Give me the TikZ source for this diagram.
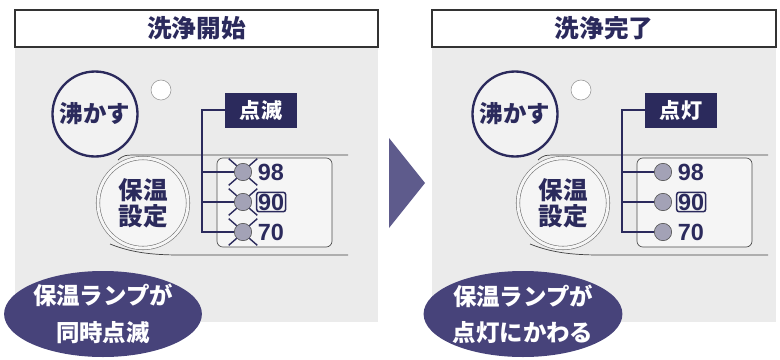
\documentclass[tikz,border=0pt]{standalone}
\usepackage{fontspec}
\setmainfont{Liberation Sans}
\newfontfamily\jpfont{Noto Sans CJK JP}
\usetikzlibrary{positioning,shapes.geometric,calc}
\definecolor{navy}{HTML}{2B2A5C}
\definecolor{panelgray}{HTML}{EBEBEB}
\definecolor{lampgray}{HTML}{A3A2B6}
\definecolor{capfill}{HTML}{47437A}
\definecolor{arrowfill}{HTML}{5E5B8C}
\tikzset{
  titlebox/.style={draw=black!80,line width=1.2pt,fill=white},
  titletext/.style={text=navy,font=\jpfont\bfseries\fontsize{21}{21}\selectfont},
  panelline/.style={draw=black!75,line width=0.6pt},
  lampbox/.style={draw=black!70,line width=0.6pt,fill=white!96!black,rounded corners=5pt,minimum width=3.45cm,minimum height=2.67cm},
  boilbtn/.style={circle,draw=navy,line width=2pt,fill=white!95!black,minimum size=2.55cm,inner sep=0pt,text=navy,font=\jpfont\bfseries\fontsize{20}{20}\selectfont},
  pilot/.style={circle,draw=black!40,line width=0.5pt,fill=white,minimum size=0.6cm,inner sep=0pt},
  keepbtn/.style={circle,draw=black!55,line width=0.5pt,double=white!96!black,double distance=2.5pt,fill=white!96!black,minimum size=2.7cm,inner sep=0pt,align=center,text=navy,font=\jpfont\bfseries\fontsize{21}{22}\selectfont},
  tagbox/.style={fill=navy,text=white,minimum width=2.16cm,minimum height=1.05cm,inner sep=0pt,font=\jpfont\bfseries\fontsize{18}{18}\selectfont},
  bus/.style={draw=navy,line width=2pt},
  lamp/.style={circle,draw=black!70,line width=0.5pt,fill=lampgray,minimum size=0.52cm,inner sep=0pt},
  numtext/.style={inner sep=0pt,text=navy,font=\bfseries\fontsize{20}{20}\selectfont},
  numframe/.style={numtext,draw=navy,line width=1.3pt,rounded corners=2pt,inner sep=1.2pt},
  blink/.style={draw=navy,line width=1.2pt},
  capsule/.style={ellipse,fill=capfill,minimum width=5.6cm,minimum height=2.58cm,inner sep=0pt,align=center,text=white,font=\jpfont\bfseries\fontsize{20}{31}\selectfont}
}
\begin{document}
\begin{tikzpicture}[x=0.03cm,y=-0.03cm]
\useasboundingbox (0,0) rectangle (780,359);
% arrow between the two states
\fill[arrowfill] (389,138) -- (425,183) -- (389,228) -- cycle;
\foreach \dx/\xa/\xb/\p/\ttl/\tag/\cap in {0/15/378/L/洗浄開始/点滅/同時点滅,420/432/776/R/洗浄完了/点灯/点灯にかわる}{
  \fill[panelgray] (\xa,47) rectangle (\xb,322);
  \draw[titlebox] (\xa,10) rectangle (\xb,47);
  \node[titletext] (title\p) at ({(\xa+\xb)/2},28.5) {\ttl};
  \begin{scope}[shift={(\dx,0)}]
    \draw[panelline] (118,160) .. controls (124,155) .. (140,155) -- (348,155);
    \draw[panelline] (110,244) .. controls (130,252) and (150,255) .. (180,255) -- (348,255);
    \node[lampbox] (box\p) at (274.5,202.5) {};
    \node[keepbtn] (keep\p) at (143,203) {保温\\設定};
    \node[boilbtn] (boil\p) at (95,114) {沸かす};
    \node[pilot] (pilot\p) at (161,90) {};
    \node[tagbox] (tag\p) at (261,110) {\tag};
    \node[lamp] (l98\p) at (243,172) {};
    \node[lamp] (l90\p) at (243,202) {};
    \node[lamp] (l70\p) at (243,232) {};
    \node[numtext,right=0.17cm of l98\p] (n98\p) {98};
    \node[numframe,right=0.12cm of l90\p] (n90\p) {90};
    \node[numtext,right=0.17cm of l70\p] (n70\p) {70};
    \path (tag\p.west) ++(-23,0) coordinate (jun\p);
    \draw[bus] (tag\p.west) -- (jun\p) |- (l70\p.west);
    \draw[bus] (jun\p |- l98\p) -- (l98\p.west);
    \draw[bus] (jun\p |- l90\p) -- (l90\p.west);
    \node[capsule] (cap\p) at (103,314) {保温ランプが\\\cap};
  \end{scope}
}
% blinking marks, start state only
\foreach \v in {98,90,70}
  \foreach \a/\ex/\ey in {45/8/-7,135/-8/-7,225/-8/7,315/8/7}
    \draw[blink] (l\v L.\a) -- ++(\ex,\ey);
\end{tikzpicture}
\end{document}
